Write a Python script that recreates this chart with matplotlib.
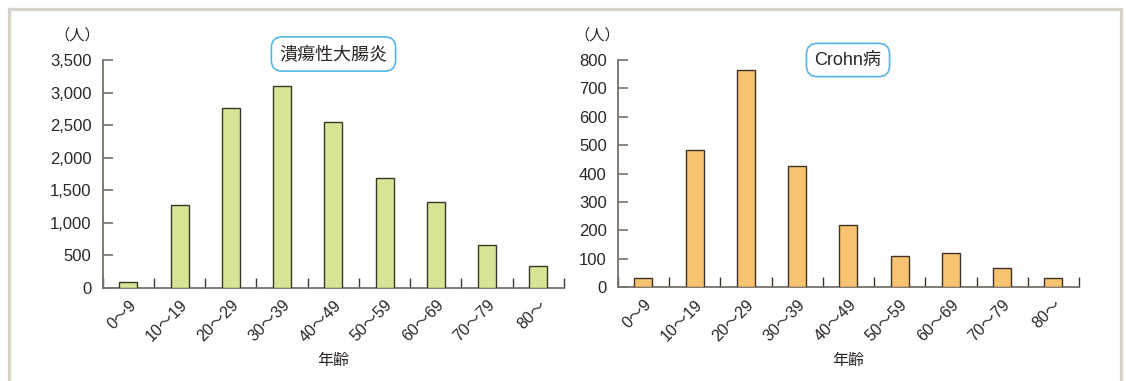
import matplotlib
matplotlib.use("Agg")
import matplotlib.pyplot as plt
from matplotlib.lines import Line2D
import numpy as np

plt.rcParams['font.family'] = ['Liberation Sans', 'Noto Sans CJK JP', 'DejaVu Sans']

categories = ["0〜9", "10〜19", "20〜29", "30〜39", "40〜49", "50〜59", "60〜69", "70〜79", "80〜"]
uc_values = [80, 1265, 2755, 3095, 2540, 1680, 1320, 650, 330]
cd_values = [33, 483, 765, 427, 220, 109, 120, 68, 33]
uc_title = "潰瘍性大腸炎"
cd_title = "Crohn病"
uc_yticks = [0, 500, 1000, 1500, 2000, 2500, 3000, 3500]
cd_yticks = [0, 100, 200, 300, 400, 500, 600, 700, 800]
xlabel = "年齢"
ylabel = "（人）"

W, H = 1126, 381
fig = plt.figure(figsize=(W / 100, H / 100), dpi=100)

# light frame
fc = '#d6d1cb'
for xs, ys in [([9, 1121], [9, 9]), ([9, 9], [9, 400]), ([1121, 1121], [9, 400])]:
    fig.add_artist(Line2D([x / W for x in xs], [1 - y / H for y in ys],
                          color=fc, lw=2.3, transform=fig.transFigure))

text_col = '#2b2623'
spine_col = '#77716b'


def make(ax, vals, yticks, color, fmt):
    x = np.arange(len(categories))
    ax.bar(x, vals, width=0.35, color=color, edgecolor='#3d3328', linewidth=1.0, zorder=3)
    ax.set_xlim(-0.5, len(categories) - 0.5)
    ax.set_ylim(0, yticks[-1])
    ax.set_yticks(yticks)
    ax.set_yticklabels([fmt(v) for v in yticks], fontsize=12, color=text_col)
    ax.set_xticks(x)
    ax.set_xticklabels(categories, rotation=45, ha='right', rotation_mode='anchor',
                       fontsize=11.5, color=text_col)
    ax.set_xticks(np.arange(-0.5, len(categories)), minor=True)
    ax.tick_params(axis='x', which='major', length=0, pad=7)
    ax.tick_params(axis='x', which='minor', direction='in', length=7, width=1.0, color='#3a3532')
    ax.tick_params(axis='y', direction='in', length=7, width=1.2, color=spine_col, pad=8)
    for s in ['top', 'right']:
        ax.spines[s].set_visible(False)
    for s in ['left', 'bottom']:
        ax.spines[s].set_color(spine_col)
        ax.spines[s].set_linewidth(1.3)
    ax.set_facecolor('none')


def pos(x0, x1, ytop, ybot):
    return [x0 / W, 1 - ybot / H, (x1 - x0) / W, (ybot - ytop) / H]


ax1 = fig.add_axes(pos(102.7, 564, 60, 287.7))
ax2 = fig.add_axes(pos(617.8, 1079, 60, 287.3))
make(ax1, uc_values, uc_yticks, '#d8e597', lambda v: f"{v:,}")
make(ax2, cd_values, cd_yticks, '#f8c370', lambda v: f"{v}")

for cx in [(102.7 + 564) / 2, (617.8 + 1079) / 2]:
    fig.text(cx / W, 1 - 360 / H, xlabel, ha='center', va='center', fontsize=11.5,
             color=text_col, family=['Noto Sans CJK JP'])

for cx in [77, 597]:
    fig.text(cx / W, 1 - 35 / H, ylabel, ha='center', va='center', fontsize=11,
             color=text_col, family=['Noto Sans CJK JP'])

box = dict(boxstyle='round,pad=0.45,rounding_size=0.6', fc='white', ec='#55b5e6', lw=1.2)
fig.text(333.5 / W, 1 - 54 / H, uc_title, ha='center', va='center', fontsize=13,
         color=text_col, family=['Noto Sans CJK JP'], bbox=box)
fig.text(848 / W, 1 - 60 / H, cd_title, ha='center', va='center', fontsize=13,
         color=text_col, family=['Liberation Sans', 'Noto Sans CJK JP'], bbox=box)

fig.savefig('out.png', dpi=100)
